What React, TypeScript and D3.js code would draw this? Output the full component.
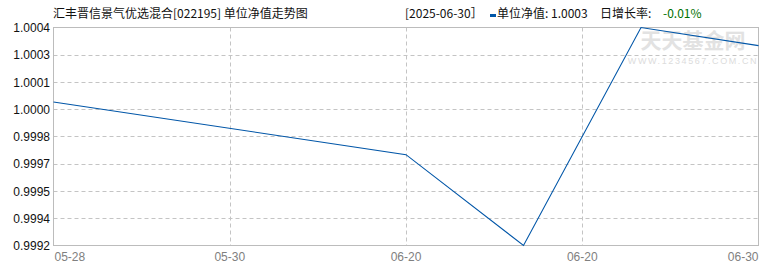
import React from "react";
import * as d3 from "d3";

const title = "汇丰晋信景气优选混合[022195] 单位净值走势图";
const headerDate = "[2025-06-30］";
const headerNav = "单位净值: 1.0003";
const headerRateLabel = "日增长率: ";
const headerRate = "-0.01%";

// data points: slot index (7 equal slots) and unit NAV
const pointSlots = [0, 3, 4, 5, 6];
const navValues = [0.99999, 0.9997, 0.9992, 1.0004, 1.0003];

const xTickSlots = [0, 1.5, 3, 4.5, 6];
const xTickLabels = ["05-28", "05-30", "06-20", "06-20", "06-30"];

const yMin = 0.9992;
const yMax = 1.0004;
const yTickLabels = ["0.9992", "0.9994", "0.9995", "0.9997", "0.9998", "1.0000", "1.0001", "1.0003", "1.0004"];

const W = 770;
const H = 270;
const L = 53.5;
const R = 758.5;
const T = 27.5;
const B = 245.5;

export default function App() {
  const x = d3.scaleLinear().domain([0, 6]).range([L, R]);
  const y = d3.scaleLinear().domain([yMin, yMax]).range([B, T]);
  const yTicks = d3.range(yTickLabels.length).map((i) => yMin + (i * (yMax - yMin)) / (yTickLabels.length - 1));
  const line = d3
    .line<number>()
    .x((_, i) => x(pointSlots[i]))
    .y((d) => y(d));
  const path = line(navValues) || "";
  const cjk = "'Noto Sans CJK SC', sans-serif";
  const num = "'Liberation Sans', Arial, sans-serif";

  return (
    <svg width={W} height={H} style={{ position: "absolute", left: 0, top: 0, background: "#fff" }}>
      <rect x={0} y={0} width={W} height={H} fill="#fff" />
      {/* watermark */}
      <text x={693} y={48} textAnchor="middle" fontFamily={cjk} fontSize={21} fontWeight={700} fill="#e2e2e2">
        天天基金网
      </text>
      <text x={693} y={64} textAnchor="middle" fontFamily={num} fontSize={9} fill="#dcdcdc" letterSpacing={1.6}>
        WWW.1234567.COM.CN
      </text>
      {/* horizontal gridlines */}
      {yTicks.slice(1, -1).map((v, i) => (
        <line key={"hg" + i} x1={L} x2={R} y1={Math.round(y(v)) + 0.5} y2={Math.round(y(v)) + 0.5} stroke="#c4c4c4" strokeDasharray="4,3" />
      ))}
      {/* vertical gridlines */}
      {xTickSlots.slice(1, -1).map((s, i) => (
        <line key={"vg" + i} x1={Math.round(x(s)) + 0.5} x2={Math.round(x(s)) + 0.5} y1={T} y2={B} stroke="#c4c4c4" strokeDasharray="4,3" />
      ))}
      {/* frame */}
      <rect x={L} y={T} width={R - L} height={B - T} fill="none" stroke="#bcbcbc" strokeWidth={1} />
      {/* line */}
      <path d={path} fill="none" stroke="#0056a8" strokeWidth={1.1} />
      {/* y labels */}
      {yTicks.map((v, i) => (
        <text key={"yl" + i} x={50} y={y(v) + 4.5} textAnchor="end" fontFamily={num} fontSize={12} fill="#111">
          {yTickLabels[i]}
        </text>
      ))}
      {/* x labels */}
      {xTickSlots.map((s, i) => (
        <text
          key={"xl" + i}
          x={i === 0 ? L + 1 : i === xTickSlots.length - 1 ? R : x(s)}
          y={261}
          textAnchor={i === 0 ? "start" : i === xTickSlots.length - 1 ? "end" : "middle"}
          fontFamily={num}
          fontSize={12}
          fill="#808080"
        >
          {xTickLabels[i]}
        </text>
      ))}
      {/* header */}
      <text x={53} y={18} fontFamily={cjk} fontSize={12} fill="#111">
        {title}
      </text>
      <text x={405} y={18} fontFamily={cjk} fontSize={12} fill="#111">
        {headerDate}
      </text>
      <rect x={490} y={14} width={6} height={3} fill="#0056a8" />
      <text x={497} y={18} fontFamily={cjk} fontSize={12} fill="#111">
        {headerNav}
      </text>
      <text x={600} y={18} fontFamily={cjk} fontSize={12} fill="#111">
        {headerRateLabel}
      </text>
      <text x={663} y={18} fontFamily={cjk} fontSize={12} fill="#007000">
        {headerRate}
      </text>
    </svg>
  );
}
